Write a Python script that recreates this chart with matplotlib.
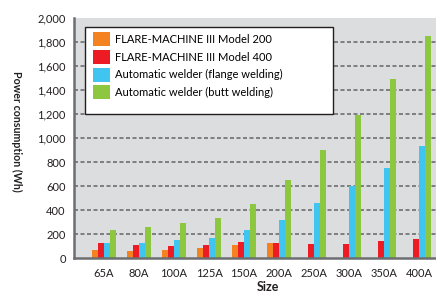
import matplotlib
matplotlib.use("Agg")
import matplotlib.pyplot as plt
from matplotlib.patches import Rectangle
import numpy as np

plt.rcParams['font.family'] = ['Lato', 'DejaVu Sans']

sizes = ["65A", "80A", "100A", "125A", "150A", "200A", "250A", "300A", "350A", "400A"]
model_200 = [64, 56, 64, 81, 106, 122, 0, 0, 0, 0]
model_400 = [122, 106, 98, 106, 131, 122, 114, 114, 139, 156]
flange = [122, 122, 147, 164, 231, 314, 456, 600, 748, 931]
butt = [238, 256, 289, 331, 448, 648, 898, 1190, 1495, 1848]

series = [
    ("FLARE-MACHINE III Model 200", model_200, "#F58220"),
    ("FLARE-MACHINE III Model 400", model_400, "#ED1C24"),
    ("Automatic welder (flange welding)", flange, "#3FC5F0"),
    ("Automatic welder (butt welding)", butt, "#8DC63F"),
]

fig = plt.figure(figsize=(4.36, 2.94), dpi=100)
ax = fig.add_axes([0.170, 0.122, 0.830, 0.817])
ax.set_facecolor("#DCDDDE")

x = np.arange(len(sizes))
w = 0.17
for i, (name, vals, col) in enumerate(series):
    ax.bar(x + (i - 1.5) * w, vals, w, color=col, label=name, zorder=3)

ax.set_xlim(-0.857, 9.49)
ax.set_ylim(0, 2000)
ax.set_yticks(range(0, 2001, 200))
ax.set_yticklabels([f"{v:,}" for v in range(0, 2001, 200)], fontsize=8, color="#231F20")
ax.set_xticks(x)
ax.set_xticklabels(sizes, fontsize=8, color="#231F20")
ax.tick_params(length=0, pad=6)
ax.tick_params(axis="x", pad=7)

for v in range(200, 2000, 200):
    ax.axhline(v, color="#6D6E71", lw=1.2, ls=(0, (2.4, 1.5)), zorder=1)

for s in ("top", "right"):
    ax.spines[s].set_visible(False)
for s in ("left", "bottom"):
    ax.spines[s].set_color("#6D6E71")
    ax.spines[s].set_linewidth(1.8)
    ax.spines[s].set_zorder(4)

fig.text(17 / 436, 1 - 131 / 294, "Power consumption (Wh)", fontsize=7.7,
         fontweight="bold", rotation=-90, ha="center", va="center", color="#231F20")
fig.text(268 / 436, 1 - 287 / 294, "Size", fontsize=9, fontweight="bold",
         ha="center", va="center", color="#231F20")

# legend box, wider than the entries as in the original
ax.add_patch(Rectangle((0.0304, 0.60), 0.685, 0.3625, transform=ax.transAxes,
                       facecolor="white", edgecolor="#231F20", lw=1.0, zorder=5))
leg = ax.legend(loc="upper left", bbox_to_anchor=(0.0525, 0.94), fontsize=8,
                frameon=False, handlelength=1.53, handleheight=1.56,
                labelspacing=0.33, handletextpad=0.45, borderpad=0,
                borderaxespad=0)
leg.set_zorder(6)

fig.savefig("out.png", dpi=100)
